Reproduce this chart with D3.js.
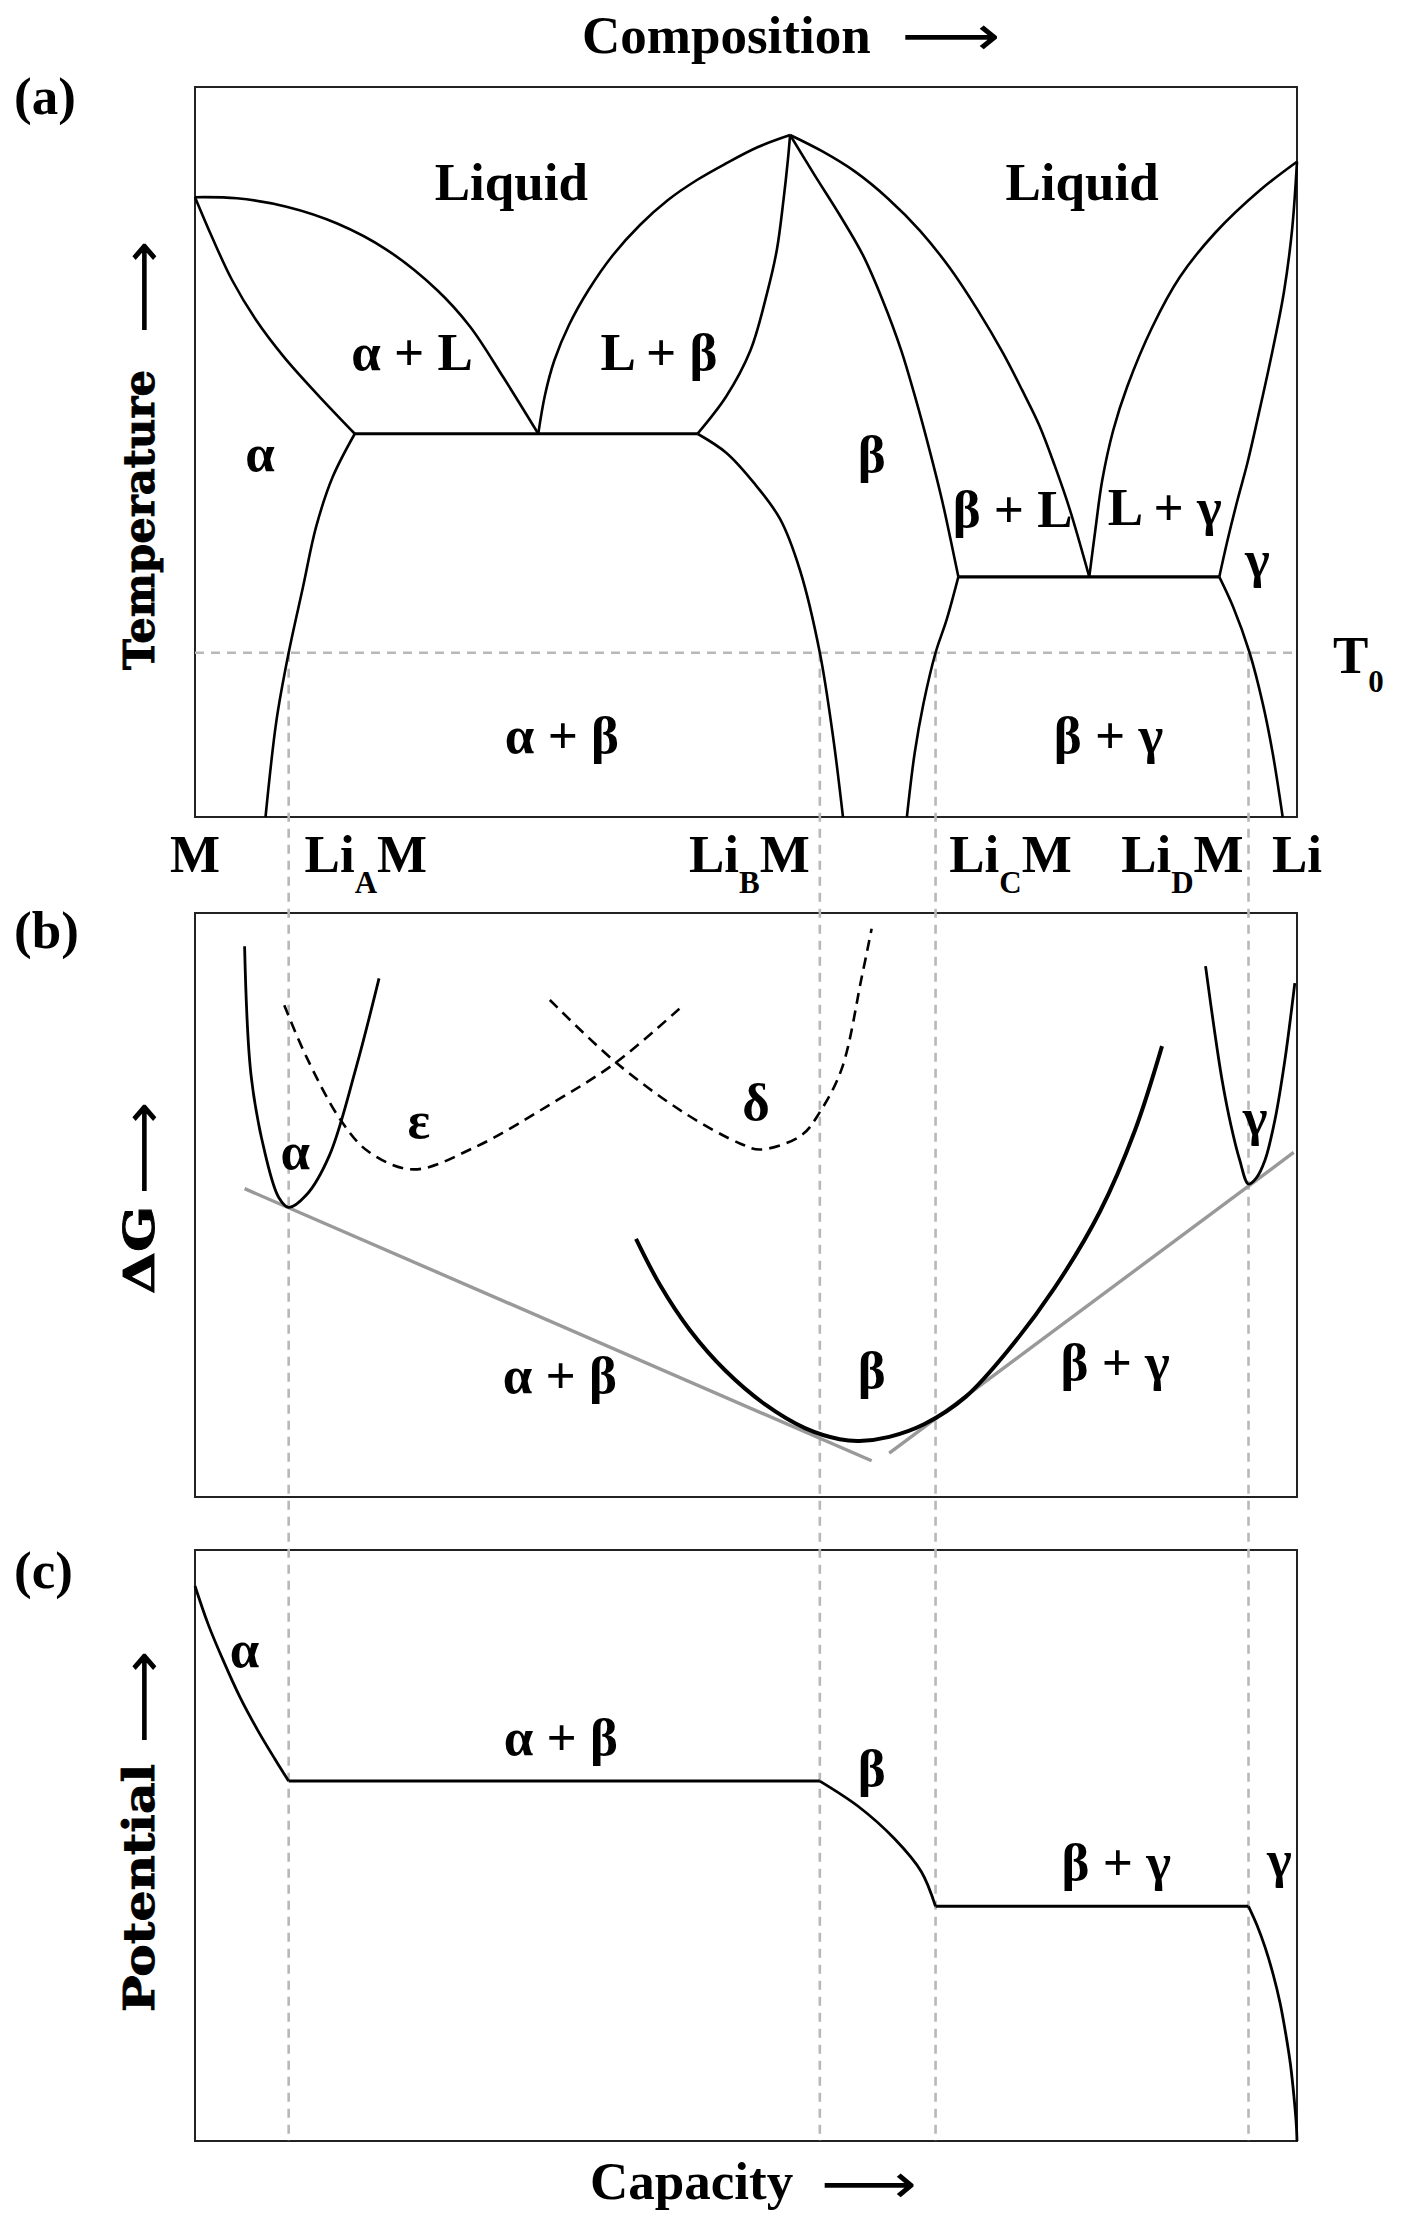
<!DOCTYPE html>
<html>
<head>
<meta charset="utf-8">
<script src="https://cdn.jsdelivr.net/npm/d3@7"></script>
<style>
  body { margin: 0; background: #fff; }
  svg text { font-family: "Liberation Serif", "Times New Roman", serif; font-weight: bold; fill: #000; }
</style>
</head>
<body>
<div id="chart"></div>
<script>
var W = 1402, H = 2228;

// composition axis: 0 = M, 100 = Li
var compTicks = [
  {x: 0, pre: "M", sub: "", post: ""},
  {x: 15.5, pre: "Li", sub: "A", post: "M"},
  {x: 50.3, pre: "Li", sub: "B", post: "M"},
  {x: 74.0, pre: "Li", sub: "C", post: "M"},
  {x: 89.6, pre: "Li", sub: "D", post: "M"},
  {x: 100, pre: "Li", sub: "", post: ""}
];
// single phase limits at T0 (alpha, beta left, beta right, gamma)
var phaseLimits = [8.5, 56.7, 67.2, 95.6];
var T0 = 22.5;

// (a) phase diagram, [composition, temperature]
var liqAlpha = [[0,84.9],[3.8,84.75],[8.3,83.6],[12.9,81.3],[17.4,77.7],[21.96,72.2],[24.95,67.2],[27.95,60.3],[31.15,52.5]];
var solAlpha = [[0,84.9],[1.54,79.45],[3.36,73.56],[5.54,68.08],[8.08,63.0],[11.16,57.8],[14.5,52.5]];
var solvAlpha = [[14.5,52.5],[12.5,46.6],[11.0,39.8],[9.8,31.5],[8.5,22.5],[7.4,13.3],[6.4,0]];
var liqBetaL = [[31.15,52.5],[31.76,57.81],[32.62,62.6],[33.94,67.4],[35.71,72.19],[37.93,76.99],[40.38,81.1],[42.92,84.52],[45.55,87.26],[48.09,89.45],[51.09,91.78],[54.0,93.42]];
var solBetaL = [[54.0,93.42],[53.8,90.0],[53.4,84.5],[52.8,77.7],[51.9,71.7],[50.4,63.9],[48.2,57.6],[45.6,52.5]];
var solvBetaL = [[45.6,52.5],[48.2,49.9],[50.7,45.8],[53.1,40.8],[54.9,33.8],[56.7,22.5],[57.9,11.0],[58.8,0]];
var solBetaR = [[54.0,93.42],[56.24,87.9],[58.49,82.5],[60.6,77.0],[62.4,70.8],[64.07,64.0],[65.43,57.1],[66.65,50.3],[67.79,43.4],[68.58,37.9],[69.27,32.9]];
var liqBetaR = [[54.0,93.42],[56.9,91.2],[59.9,88.4],[62.9,84.7],[65.8,80.3],[68.5,75.2],[71.0,69.5],[73.3,63.6],[75.05,58.5],[76.6,53.7],[78.0,48.2],[79.4,42.05],[81.15,32.9]];
var liqGamma = [[100,89.77],[96.66,85.89],[92.56,80.0],[89.37,73.97],[86.87,67.12],[84.58,58.9],[83.33,53.01],[82.33,46.16],[81.7,39.32],[81.15,32.9]];
var solGamma = [[100,89.77],[99.55,80.4],[98.8,71.78],[97.6,62.6],[96.4,54.38],[95.5,48.49],[94.6,43.42],[93.7,37.95],[92.95,32.9]];
var solvGamma = [[92.95,32.9],[94.2,28.8],[95.7,22.5],[96.9,15.5],[97.8,8.7],[98.7,0]];
var solvBetaR = [[69.27,32.9],[68.2,27.0],[67.2,22.5],[66.1,15.5],[65.3,8.7],[64.6,0]];
var eutectics = [[14.5, 45.6, 52.5], [69.27, 92.95, 32.9]];
var labelsA = [
  {x: 28.7, y: 84.5, t: "Liquid"},
  {x: 80.5, y: 84.5, t: "Liquid"},
  {x: 19.7, y: 61.2, t: "α + L"},
  {x: 42.1, y: 61.2, t: "L + β"},
  {x: 5.9, y: 47.4, t: "α"},
  {x: 61.4, y: 47.3, t: "β"},
  {x: 74.2, y: 39.7, t: "β + L"},
  {x: 88.0, y: 40.0, t: "L + γ"},
  {x: 96.4, y: 32.9, t: "γ"},
  {x: 33.3, y: 8.7, t: "α + β"},
  {x: 82.9, y: 8.8, t: "β + γ"}
];

// (b) free energy, [composition, dG]
var gAlpha = [[4.5,94.3],[5.1,72.0],[6.4,58.5],[7.6,51.3],[8.5,49.6],[10.1,51.7],[12.2,58.5],[14.6,73.4],[16.7,88.8]];
var gBeta = [[40.02,44.2],[42.2,36.3],[44.9,28.6],[48.1,21.7],[51.7,15.9],[55.35,11.8],[58.5,9.9],[60.3,9.6],[63.0,10.3],[66.2,12.5],[69.9,17.1],[73.95,25.5],[78.0,35.8],[82.1,48.8],[85.3,62.8],[87.75,77.2]];
var gGamma = [[91.7,90.9],[92.5,80.0],[93.2,71.4],[94.0,63.7],[94.8,57.7],[95.6,53.6],[96.3,54.6],[97.1,57.7],[98.0,64.6],[98.9,74.8],[99.8,88.0]];
var gEps = [[8.1,84.2],[10.1,75.4],[13.2,64.6],[15.7,59.2],[19.8,56.1],[25.3,59.8],[32.3,67.3],[38.2,74.4],[44.3,84.2]];
var gDelta = [[32.2,85.1],[38.2,74.4],[44.3,65.9],[49.5,60.5],[51.3,59.5],[55.0,61.9],[56.7,65.9],[58.7,73.4],[60.5,89.0],[61.4,97.3]];
var tangentL = [[4.5,52.8],[61.4,6.2]];
var tangentR = [[63.0,7.5],[99.7,59.0]];
var labelsB = [
  {x: 9.1, y: 56.2, t: "α"},
  {x: 20.3, y: 61.5, t: "ε"},
  {x: 50.9, y: 64.6, t: "δ"},
  {x: 96.2, y: 62.0, t: "γ"},
  {x: 33.1, y: 17.8, t: "α + β"},
  {x: 61.4, y: 18.7, t: "β"},
  {x: 83.5, y: 20.0, t: "β + γ"}
];

// (c) potential, [capacity, potential]
var vAlpha = [[0,93.9],[1.18,87.5],[2.54,81.4],[4.08,75.1],[5.72,69.4],[7.26,64.6],[8.5,60.9]];
var vBeta = [[56.7,60.9],[60.2,56.6],[63.5,51.1],[65.9,45.6],[67.2,39.7]];
var vGamma = [[95.6,39.7],[96.37,36.5],[97.1,32.8],[97.82,28.3],[98.46,23.4],[99.0,17.9],[99.41,12.9],[99.73,7.4],[99.94,2.7],[100,0]];
var plateaus = [[8.5, 56.7, 60.9], [67.2, 95.6, 39.7]];
var labelsC = [
  {x: 4.5, y: 80.2, t: "α"},
  {x: 33.2, y: 65.3, t: "α + β"},
  {x: 61.4, y: 60.1, t: "β"},
  {x: 83.6, y: 44.2, t: "β + γ"},
  {x: 98.4, y: 44.7, t: "γ"}
];

var svg = d3.select("#chart").append("svg")
  .attr("width", W)
  .attr("height", H);

var x = d3.scaleLinear().domain([0, 100]).range([195, 1297]);
var yA = d3.scaleLinear().domain([0, 100]).range([817, 87]);
var yB = d3.scaleLinear().domain([0, 100]).range([1497, 913]);
var yC = d3.scaleLinear().domain([0, 100]).range([2141, 1550]);

function lineFor(y, straight) {
  return d3.line()
    .x(function(d) { return x(d[0]); })
    .y(function(d) { return y(d[1]); })
    .curve(straight ? d3.curveLinear : d3.curveCatmullRom.alpha(0.5));
}

function drawCurve(data, y, width, color, dash, straight) {
  var p = svg.append("path")
    .attr("d", lineFor(y, straight)(data))
    .attr("fill", "none")
    .attr("stroke", color || "#000")
    .attr("stroke-width", width)
    .attr("stroke-linejoin", "round");
  if (dash) p.attr("stroke-dasharray", dash);
  return p;
}

function drawLabels(labels, y) {
  svg.append("g").selectAll("text")
    .data(labels)
    .enter()
    .append("text")
    .attr("x", function(d) { return x(d.x); })
    .attr("y", function(d) { return y(d.y); })
    .attr("text-anchor", "middle")
    .style("font-size", "53px")
    .text(function(d) { return d.t; });
}

// frames
[yA, yB, yC].forEach(function(y) {
  svg.append("rect")
    .attr("x", x(0)).attr("y", y(100))
    .attr("width", x(100) - x(0)).attr("height", y(0) - y(100))
    .attr("fill", "none").attr("stroke", "#222").attr("stroke-width", 2);
});

// grey guide lines
var guideDash = "9,7";
svg.append("line")
  .attr("x1", x(0)).attr("x2", x(100))
  .attr("y1", yA(T0)).attr("y2", yA(T0))
  .attr("stroke", "#b8b8b8").attr("stroke-width", 2.6).attr("stroke-dasharray", guideDash);
svg.append("g").selectAll("line")
  .data(phaseLimits)
  .enter()
  .append("line")
  .attr("x1", function(d) { return x(d); })
  .attr("x2", function(d) { return x(d); })
  .attr("y1", yA(T0))
  .attr("y2", yC(0))
  .attr("stroke", "#b8b8b8").attr("stroke-width", 2.6).attr("stroke-dasharray", guideDash);

// (a)
[liqAlpha, solAlpha, solvAlpha, liqBetaL, solBetaL, solvBetaL,
 solBetaR, liqBetaR, liqGamma, solGamma, solvGamma, solvBetaR].forEach(function(c) {
  drawCurve(c, yA, 2.6);
});
eutectics.forEach(function(e) {
  drawCurve([[e[0], e[2]], [e[1], e[2]]], yA, 3.2, "#000", null, true);
});
drawLabels(labelsA, yA);

// composition names under (a)
var tickText = svg.append("g").selectAll("text")
  .data(compTicks)
  .enter()
  .append("text")
  .attr("x", function(d) { return x(d.x); })
  .attr("y", 872)
  .attr("text-anchor", "middle")
  .style("font-size", "53px");
tickText.append("tspan").text(function(d) { return d.pre; });
tickText.filter(function(d) { return d.sub; })
  .append("tspan").attr("dy", 21).style("font-size", "31px").text(function(d) { return d.sub; });
tickText.filter(function(d) { return d.post; })
  .append("tspan").attr("dy", -21).text(function(d) { return d.post; });

// T0
var t0 = svg.append("text")
  .attr("x", 1333).attr("y", yA(T0) + 20)
  .style("font-size", "53px");
t0.append("tspan").text("T");
t0.append("tspan").attr("dy", 19).style("font-size", "31px").text("0");

// (b)
drawCurve(tangentL, yB, 3.4, "#999", null, true);
drawCurve(tangentR, yB, 3.4, "#999", null, true);
drawCurve(gEps, yB, 2.6, "#000", "11,7");
drawCurve(gDelta, yB, 2.6, "#000", "11,7");
drawCurve(gAlpha, yB, 2.8);
drawCurve(gGamma, yB, 2.8);
drawCurve(gBeta, yB, 4);
drawLabels(labelsB, yB);

// (c)
drawCurve(vAlpha, yC, 2.8);
drawCurve(vBeta, yC, 2.8);
drawCurve(vGamma, yC, 2.8);
plateaus.forEach(function(p) {
  drawCurve([[p[0], p[2]], [p[1], p[2]]], yC, 3, "#000", null, true);
});
drawLabels(labelsC, yC);

// panel letters
[["(a)", 114], ["(b)", 948], ["(c)", 1588]].forEach(function(p) {
  svg.append("text").attr("x", 14).attr("y", p[1]).style("font-size", "53px").text(p[0]);
});

// axis titles
function arrow(cx, cy, len, rot) {
  svg.append("text")
    .attr("transform", "translate(" + cx + "," + cy + ") rotate(" + rot + ")")
    .attr("text-anchor", "middle")
    .attr("dy", "0.3em")
    .attr("textLength", len)
    .attr("lengthAdjust", "spacingAndGlyphs")
    .style("font-family", "DejaVu Sans")
    .style("font-weight", "normal")
    .style("font-size", "56px")
    .text("\u27F6");
}

svg.append("text").attr("x", 582).attr("y", 53).style("font-size", "53px").text("Composition");
arrow(951, 38, 99, 0);
svg.append("text").attr("x", 590).attr("y", 2199).style("font-size", "53px").text("Capacity");
arrow(869, 2186, 96, 0);

[["Temperature", 520, 300, 287], ["ΔG", 1250, 88, 1148], ["Potential", 1888, 248, 1697]].forEach(function(a) {
  svg.append("text")
    .attr("transform", "translate(154," + a[1] + ") rotate(-90)")
    .attr("text-anchor", "middle")
    .attr("textLength", a[2])
    .attr("lengthAdjust", "spacingAndGlyphs")
    .style("font-family", "DejaVu Serif")
    .style("font-size", "43px")
    .style("stroke", "#000")
    .style("stroke-width", 0.9)
    .text(a[0]);
  arrow(145, a[3], 93, -90);
});
</script>
</body>
</html>
